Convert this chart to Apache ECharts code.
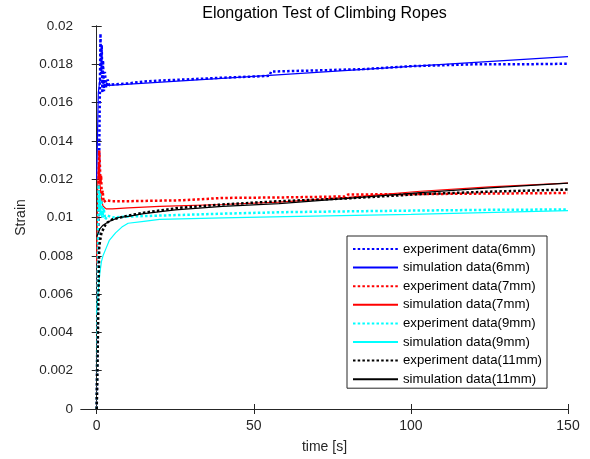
<!DOCTYPE html>
<html>
<head>
<meta charset="utf-8">
<script src="https://cdn.jsdelivr.net/npm/echarts@6/dist/echarts.min.js"></script>
<style>html,body{margin:0;padding:0;background:#fff}#c{width:590px;height:459px}</style>
</head>
<body>
<div id="c"></div>
<script>
const titleText = 'Elongation Test of Climbing Ropes';
const xLabel = 'time [s]';
const yLabel = 'Strain';
const xTicks = [0, 50, 100, 150];
const seriesNames = ['experiment data(6mm)','simulation data(6mm)','experiment data(7mm)','simulation data(7mm)','experiment data(9mm)','simulation data(9mm)','experiment data(11mm)','simulation data(11mm)'];

const exp6 = [[0,0],[0.3,0.005],[0.6,0.010],[0.9,0.015],[1.2,0.0196],[1.4,0.0175],[1.6,0.0190],[1.8,0.0165],[2.0,0.0182],[2.3,0.0166],[2.6,0.0176],[3,0.0168],[3.5,0.0172],[4,0.0169],[5,0.01695],[10,0.0170],[15,0.0171],[20,0.01715],[30,0.01722],[40,0.0173],[50,0.01736],[55,0.0174],[55.5,0.01762],[70,0.01768],[85,0.01775],[100,0.0179],[120,0.0180],[135,0.0180],[150,0.01803]];
const sim6 = [[0,0.0120],[0.5,0.0165],[1,0.0172],[2,0.0170],[3,0.0169],[4,0.0169],[50,0.01737],[100,0.01789],[150,0.0184]];
const exp7 = [[0,0],[0.2,0.004],[0.4,0.008],[0.6,0.0115],[0.8,0.0135],[1.0,0.0128],[1.2,0.0118],[1.4,0.0122],[1.6,0.0112],[1.9,0.0114],[2.2,0.0108],[3,0.0109],[5,0.01085],[10,0.01085],[20,0.01088],[27.5,0.0109],[28,0.0110],[40,0.01102],[60,0.01105],[79,0.0111],[80,0.0112],[100,0.01122],[125,0.01125],[150,0.01128]];
const sim7 = [[0,0.0076],[0.3,0.0115],[0.6,0.0128],[1,0.0118],[1.5,0.0110],[2,0.0106],[3,0.01045],[5,0.01045],[10,0.0105],[20,0.01058],[40,0.01068],[58,0.0108],[80,0.01105],[103,0.01137],[125,0.0116],[150,0.0118]];
const exp9 = [[0,0],[0.2,0.004],[0.4,0.008],[0.6,0.0117],[0.8,0.0104],[1.0,0.0113],[1.2,0.0101],[1.5,0.0109],[1.8,0.0100],[2.2,0.0105],[2.7,0.0099],[3.5,0.0101],[5,0.0100],[10,0.01005],[20,0.0101],[40,0.0102],[60,0.01028],[80,0.01032],[100,0.01036],[125,0.0104],[150,0.01042]];
const sim9 = [[0,0.0050],[0.5,0.0062],[1,0.0071],[1.5,0.0077],[2,0.0080],[3,0.0084],[4,0.0088],[6,0.0092],[8,0.0095],[10,0.0097],[15,0.0098],[20,0.0099],[40,0.00998],[60,0.01005],[100,0.01016],[150,0.01036]];
const exp11 = [[0,0],[0.4,0.004],[0.8,0.0085],[1.5,0.0092],[3,0.0097],[5,0.0099],[10,0.0101],[15,0.01025],[26,0.0105],[40,0.01068],[58,0.01085],[80,0.0110],[103,0.01122],[125,0.01135],[150,0.01146]];
const sim11 = [[0,0.0090],[1,0.0094],[2,0.0096],[4,0.0098],[7,0.0100],[10,0.01006],[15,0.0102],[25,0.0104],[40,0.01058],[58,0.01072],[80,0.0110],[103,0.0113],[125,0.01155],[150,0.0118]];

const allData = [exp6, sim6, exp7, sim7, exp9, sim9, exp11, sim11];
const colors = ['#0000ff','#0000ff','#ff0000','#ff0000','#00ffff','#00ffff','#000000','#000000'];

const axisCol = '#262626';
const font = 'Liberation Sans, Arial, Helvetica, sans-serif';

const chart = echarts.init(document.getElementById('c'), null, {renderer: 'canvas'});
const fmtY = v => parseFloat(v.toFixed(4)).toString();

const series = allData.map((d, i) => ({
  name: seriesNames[i],
  type: 'line',
  data: d,
  showSymbol: false,
  symbol: 'none',
  xAxisIndex: 0, yAxisIndex: 0,
  lineStyle: i % 2 === 0
    ? {color: colors[i], width: 2.5, type: [2.5, 2.2], cap: 'butt'}
    : {color: colors[i], width: 1.2, type: 'solid'},
  itemStyle: {color: colors[i]},
  z: 2 + i,
  animation: false
}));

chart.setOption({
  animation: false,
  backgroundColor: '#fff',
  graphic: [{
    type: 'text', x: 324.5, y: 14,
    style: {text: titleText, align: 'center', verticalAlign: 'middle', fontFamily: font, fontSize: 16, fill: '#000'}
  }],
  grid: {left: 81, right: 22, top: 26, bottom: 49, containLabel: false},
  legend: {
    orient: 'vertical',
    left: 347, top: 236,
    width: 201,
    padding: [6, 5, 2, 5],
    itemWidth: 45, itemHeight: 14, itemGap: 4.6,
    backgroundColor: '#fff',
    borderColor: '#262626', borderWidth: 1, borderRadius: 0,
    itemStyle: {color: 'rgba(0,0,0,0)', borderWidth: 0, opacity: 0},
    textStyle: {fontFamily: font, fontSize: 13.2, color: '#000', lineHeight: 14},
    data: seriesNames
  },
  xAxis: [{
    type: 'value', min: -5, max: 150, position: 'bottom',
    name: xLabel, nameLocation: 'middle', nameGap: 31,
    nameTextStyle: {fontFamily: font, fontSize: 14, color: axisCol},
    axisLine: {show: true, lineStyle: {color: axisCol, width: 1}},
    axisTick: {show: true, inside: true, length: 5, customValues: xTicks, lineStyle: {color: axisCol}},
    axisLabel: {customValues: xTicks, fontFamily: font, fontSize: 14, color: axisCol, margin: 10},
    splitLine: {show: false}
  }, {
    type: 'value', min: -5, max: 150, position: 'top',
    axisLine: {show: true, lineStyle: {color: axisCol, width: 1}},
    axisTick: {show: true, inside: true, length: 5, customValues: xTicks, lineStyle: {color: axisCol}},
    axisLabel: {show: false},
    splitLine: {show: false}
  }],
  yAxis: [{
    type: 'value', min: 0, max: 0.02, interval: 0.002, position: 'left',
    name: yLabel, nameLocation: 'middle', nameGap: 52, nameRotate: 90,
    nameTextStyle: {fontFamily: font, fontSize: 14, color: axisCol},
    axisLine: {show: true, lineStyle: {color: axisCol, width: 1}},
    axisTick: {show: true, inside: true, length: 5, lineStyle: {color: axisCol}},
    axisLabel: {formatter: fmtY, fontFamily: font, fontSize: 13.5, color: axisCol, margin: 8},
    splitLine: {show: false}
  }, {
    type: 'value', min: 0, max: 0.02, interval: 0.002, position: 'right',
    axisLine: {show: true, lineStyle: {color: axisCol, width: 1}},
    axisTick: {show: true, inside: true, length: 5, lineStyle: {color: axisCol}},
    axisLabel: {show: false},
    splitLine: {show: false}
  }],
  series: series
});
</script>
</body>
</html>
